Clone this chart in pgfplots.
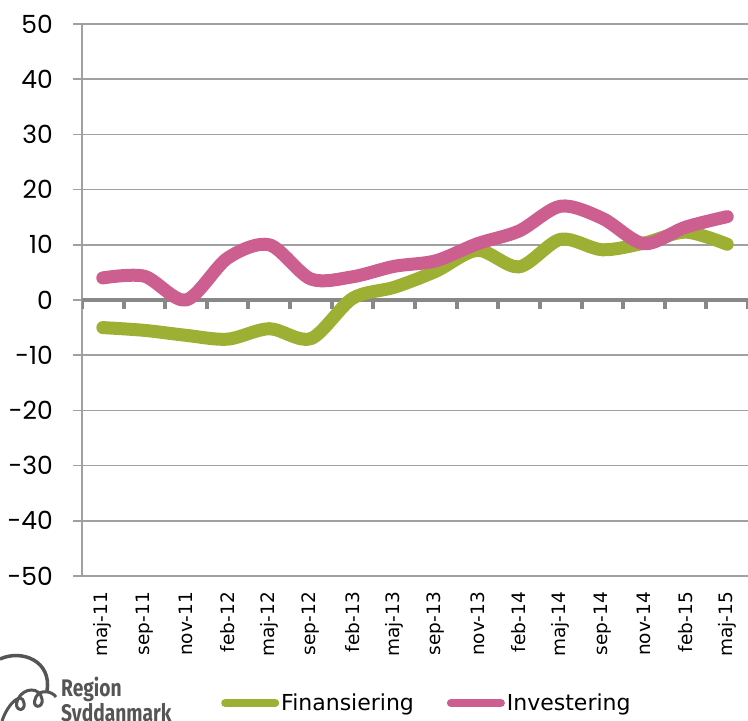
\documentclass[border=0pt]{standalone}
\usepackage{pgfplots}
\pgfplotsset{compat=1.18}
\usepackage{fontspec}
\setmainfont{DejaVu Sans}
\newfontfamily\tickfont{Poppins}
\newfontfamily\logofont[FakeStretch=0.8]{Fira Sans}
\definecolor{fin}{RGB}{158,176,52}
\definecolor{inv}{RGB}{204,94,144}
\definecolor{gridc}{RGB}{160,160,160}
\definecolor{zeroc}{RGB}{136,136,136}
\definecolor{logoc}{RGB}{85,85,85}
\begin{document}
\begin{tikzpicture}
\path[use as bounding box] (0pt,0pt) rectangle (748pt,721pt);
\begin{axis}[
 at={(82pt,145pt)}, anchor=south west,
 scale only axis, width=666pt, height=552pt,
 xmin=0.5, xmax=16.5, ymin=-50, ymax=50,
 axis x line*=bottom, axis y line*=left,
 x axis line style={draw=none},
 y axis line style={draw=gridc, line width=1.5pt},
 xtick={1,...,16},
 xticklabels={maj-11,sep-11,nov-11,feb-12,maj-12,sep-12,feb-13,maj-13,sep-13,nov-13,feb-14,maj-14,sep-14,nov-14,feb-15,maj-15},
 x tick label style={rotate=90, anchor=east, inner sep=0pt, font=\fontsize{18.5}{20}\selectfont},
 xticklabel shift=16pt,
 x tick style={draw=none},
 xtick align=inside,
 ytick={-50,-40,...,50},
 yticklabels={-50,-40,-30,-20,-10,0,10,20,30,40,50},
 y tick label style={anchor=east, inner sep=0pt, font=\tickfont\fontsize{25}{28}\selectfont},
 ytick align=outside,
 major tick length=9pt,
 y tick style={draw=gridc, line width=1.5pt},
 yticklabel shift=20pt,
 ymajorgrids,
 major grid style={draw=gridc, line width=1.5pt},
 legend columns=2,
 legend cell align=left,
 legend style={at={(0.2087,-0.23)}, anchor=west, draw=none, fill=none, inner sep=0pt,
   font=\fontsize{22}{26}\selectfont},
 legend image code/.code={\draw[#1, line width=8pt, line cap=round, solid] (4pt,0pt) -- (54pt,0pt);},
]
\addplot[zeroc, line width=4.5pt, forget plot] coordinates {(0.5,0) (16.5,0)};
\addplot[zeroc, line width=4pt, forget plot, unbounded coords=jump] coordinates {
 (0.5,0) (0.5,-1.56) (0.5,nan)
 (1.5,0) (1.5,-1.56) (1.5,nan)
 (2.5,0) (2.5,-1.56) (2.5,nan)
 (3.5,0) (3.5,-1.56) (3.5,nan)
 (4.5,0) (4.5,-1.56) (4.5,nan)
 (5.5,0) (5.5,-1.56) (5.5,nan)
 (6.5,0) (6.5,-1.56) (6.5,nan)
 (7.5,0) (7.5,-1.56) (7.5,nan)
 (8.5,0) (8.5,-1.56) (8.5,nan)
 (9.5,0) (9.5,-1.56) (9.5,nan)
 (10.5,0) (10.5,-1.56) (10.5,nan)
 (11.5,0) (11.5,-1.56) (11.5,nan)
 (12.5,0) (12.5,-1.56) (12.5,nan)
 (13.5,0) (13.5,-1.56) (13.5,nan)
 (14.5,0) (14.5,-1.56) (14.5,nan)
 (15.5,0) (15.5,-1.56) (15.5,nan)
 (16.5,0) (16.5,-1.56)
};
\addplot[fin, line width=13pt, smooth, line cap=round, line join=round] coordinates {
 (1,-5) (2,-5.5) (3,-6.4) (4,-7.1) (5,-5.2) (6,-7) (7,0.3) (8,2.3)
 (9,5.2) (10,9) (11,6) (12,11) (13,9.1) (14,10.3) (15,12.3) (16,10.1)};
\addlegendentry{Finansiering\rule{31pt}{0pt}}
\addplot[inv, line width=13pt, smooth, line cap=round, line join=round] coordinates {
 (1,4) (2,4.3) (3,0) (4,7.6) (5,10) (6,3.8) (7,4.2) (8,6.1)
 (9,7.1) (10,10.2) (11,12.5) (12,17) (13,14.8) (14,10.2) (15,13.2) (16,15.1)};
\addlegendentry{Investering}
\end{axis}
\node[anchor=north west, inner sep=0pt, text=logoc, align=left,
  font=\logofont\bfseries\fontsize{24}{22}\selectfont] at (61pt,44pt) {Region\\Syddanmark};
\draw[logoc, line width=3.5pt] (0pt,62pt) .. controls (22pt,72pt) and (52pt,60pt) .. (47pt,30pt);
\draw[logoc, line width=3pt] (2pt,0pt) .. controls (8pt,18pt) and (22pt,30pt) .. (24pt,18pt)
  .. controls (26pt,8pt) and (12pt,10pt) .. (18pt,22pt)
  .. controls (24pt,34pt) and (40pt,34pt) .. (42pt,22pt)
  .. controls (44pt,12pt) and (30pt,12pt) .. (36pt,24pt)
  .. controls (40pt,32pt) and (52pt,30pt) .. (56pt,24pt);
\end{tikzpicture}
\end{document}
